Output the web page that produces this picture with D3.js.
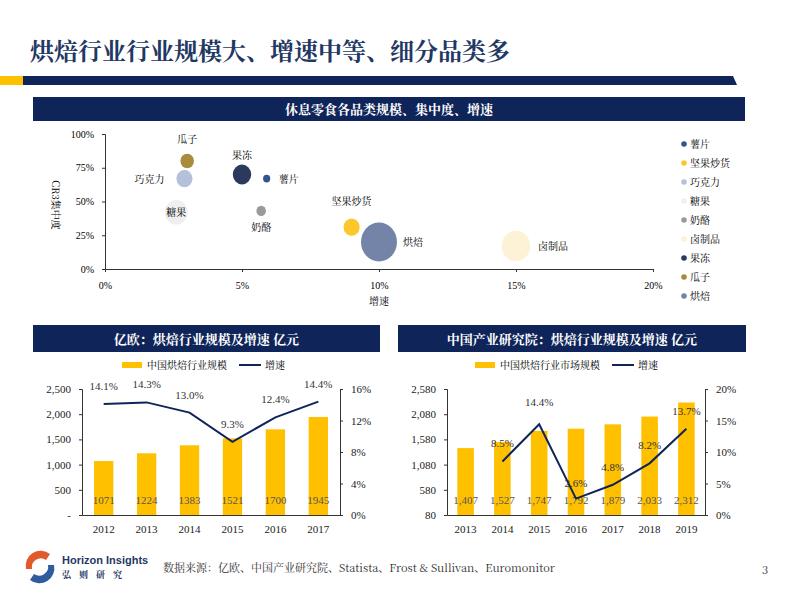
<!DOCTYPE html>
<html><head><meta charset="utf-8">
<script src="https://cdn.jsdelivr.net/npm/d3@7"></script>
<style>body{margin:0;background:#fff}svg{display:block;font-family:"Noto Serif CJK SC","Noto Sans CJK SC",serif}</style>
</head><body><svg id="c" width="800" height="600"></svg>
<script>
// bubble chart data
const bubbleNames = ["瓜子","巧克力","果冻","薯片","糖果","奶酪","坚果炒货","烘焙","卤制品"];
const bubbleGrowth = [0.030,0.029,0.050,0.059,0.026,0.057,0.090,0.100,0.150];
const bubbleCR3 = [0.80,0.67,0.70,0.67,0.42,0.43,0.31,0.20,0.17];
const bubbleSize = [14,20,26,4,40,7,20,100,62];
const bubbleColors = ["#a88b3c","#b5c0db","#2b3a5c","#35548f","#efefef","#9a9a9a","#fcc72d","#7384a8","#fdf1d6"];
const legendOrder = ["薯片","坚果炒货","巧克力","糖果","奶酪","卤制品","果冻","瓜子","烘焙"];

// chart 1 (亿欧)
const years1 = ["2012","2013","2014","2015","2016","2017"];
const size1 = [1071,1224,1383,1521,1700,1945];
const growth1 = [0.141,0.143,0.130,0.093,0.124,0.144];

// chart 2 (中国产业研究院)
const years2 = ["2013","2014","2015","2016","2017","2018","2019"];
const size2 = [1407,1527,1747,1792,1879,2033,2312];
const growth2 = [null,0.085,0.144,0.026,0.048,0.082,0.137];

const NAVY = "#0f2459", GOLD = "#ffc000";
const svg = d3.select("#c");

// title + banner
svg.append("text").attr("x",30).attr("y",60).attr("font-size",24).attr("font-weight","bold")
  .attr("fill","#1f3864").text("烘焙行业行业规模大、增速中等、细分品类多");
svg.append("rect").attr("x",0).attr("y",76).attr("width",23).attr("height",9).attr("fill",GOLD);
svg.append("path").attr("d","M23,76 L733,76 L737,85 L23,85 Z").attr("fill",NAVY);

function header(x,y,w,h,txt){
  svg.append("rect").attr("x",x).attr("y",y).attr("width",w).attr("height",h).attr("fill",NAVY);
  svg.append("text").attr("x",x+w/2).attr("y",y+h/2+5).attr("text-anchor","middle")
    .attr("font-size",13).attr("font-weight","bold").attr("fill","#fff").text(txt);
}
header(33,97,712,24,"休息零食各品类规模、集中度、增速");
header(33,325,347,27,"亿欧：烘焙行业规模及增速 亿元");
header(398,325,348,27,"中国产业研究院：烘焙行业规模及增速 亿元");

// ---- bubble chart
const bx = d3.scaleLinear().domain([0,0.2]).range([105,653]);
const by = d3.scaleLinear().domain([0,1]).range([269,134]);
const br = d3.scaleSqrt().domain([0,100]).range([0,18]);
const pct = d3.format(".0%");
const gb = svg.append("g").attr("font-size",10);
gb.append("g").attr("transform","translate(0,269)")
  .call(d3.axisBottom(bx).tickValues([0,0.05,0.1,0.15,0.2]).tickFormat(pct).tickSize(3).tickPadding(10));
gb.append("g").attr("transform","translate(105,0)")
  .call(d3.axisLeft(by).tickValues([0,0.25,0.5,0.75,1]).tickFormat(pct).tickSize(3).tickPadding(8));
gb.selectAll(".domain,.tick line").attr("stroke","#333");
gb.selectAll(".tick text").attr("font-family","Liberation Serif,serif").attr("font-size",10);
gb.append("text").attr("x",379).attr("y",305).attr("text-anchor","middle").attr("font-size",10).text("增速");
gb.append("text").attr("transform","translate(52,205) rotate(90)").attr("text-anchor","middle")
  .attr("font-size",10).text("CR3集中度");
const labelPos = {"瓜子":[0,-18,"middle"],"巧克力":[-20,4,"end"],"果冻":[0,-16,"middle"],"薯片":[12,4,"start"],
  "糖果":[0,4,"middle"],"奶酪":[0,20,"middle"],"坚果炒货":[0,-22,"middle"],"烘焙":[24,4,"start"],"卤制品":[22,4,"start"]};
bubbleNames.forEach((n,i)=>{
  const cx=bx(bubbleGrowth[i]), cy=by(bubbleCR3[i]), r=br(bubbleSize[i]);
  gb.append("ellipse").attr("cx",cx).attr("cy",cy).attr("rx",r).attr("ry",r*1.08).attr("fill",bubbleColors[i]);
  const p=labelPos[n];
  gb.append("text").attr("x",cx+p[0]).attr("y",cy+p[1]).attr("text-anchor",p[2]).text(n);
});
legendOrder.forEach((n,i)=>{
  const y=144+i*19;
  gb.append("circle").attr("cx",684).attr("cy",y).attr("r",2.8).attr("fill",bubbleColors[bubbleNames.indexOf(n)]);
  gb.append("text").attr("x",690).attr("y",y+4).text(n);
});

// ---- combo charts
function combo(o){
  const g=svg.append("g").attr("font-size",11);
  const x=d3.scaleBand().domain(o.years).range([o.x0,o.x1]).paddingInner(0.55).paddingOuter(0.28);
  const y=d3.scaleLinear().domain(o.yDom).range([515,389]);
  const y2=d3.scaleLinear().domain(o.y2Dom).range([515,389]);
  g.append("g").attr("transform",`translate(${o.x0},0)`)
    .call(d3.axisLeft(y).tickValues(o.yTicks).tickFormat(o.yFmt).tickSize(3).tickPadding(8));
  g.append("g").attr("transform",`translate(${o.x1},0)`)
    .call(d3.axisRight(y2).tickValues(o.y2Ticks).tickFormat(pct).tickSize(3).tickPadding(8));
  g.append("g").attr("transform","translate(0,515)").call(d3.axisBottom(x).tickSize(0).tickPadding(10));
  g.selectAll(".tick text").attr("font-family","Liberation Serif,serif").attr("font-size",11).attr("fill","#222");
  g.selectAll(".domain,.tick line").attr("stroke","#333");
  g.selectAll("rect.bar").data(o.size).join("rect").attr("x",(d,i)=>x(o.years[i])).attr("width",x.bandwidth())
    .attr("y",d=>y(d)).attr("height",d=>515-y(d)).attr("fill",GOLD);
  g.selectAll("text.v").data(o.size).join("text").attr("x",(d,i)=>x(o.years[i])+x.bandwidth()/2).attr("y",504)
    .attr("text-anchor","middle").attr("font-family","Liberation Serif,serif").attr("fill","#555").text(o.vFmt);
  const pts=o.growth.map((d,i)=>[d,i]).filter(p=>p[0]!==null);
  g.append("path").attr("fill","none").attr("stroke",NAVY).attr("stroke-width",2)
    .attr("d",d3.line().x(p=>x(o.years[p[1]])+x.bandwidth()/2).y(p=>y2(p[0]))(pts));
  pts.forEach(p=>g.append("text").attr("x",x(o.years[p[1]])+x.bandwidth()/2).attr("y",y2(p[0])-o.off[p[1]])
    .attr("text-anchor","middle").attr("font-family","Liberation Serif,serif").attr("font-size",11).attr("fill","#333")
    .text(d3.format(".1%")(p[0])));
  const lx=o.legX;
  g.append("rect").attr("x",lx).attr("y",362).attr("width",20).attr("height",6).attr("fill",GOLD);
  g.append("text").attr("x",lx+25).attr("y",369).attr("font-size",10).text(o.legName);
  const l2=lx+25+o.legName.length*10+12;
  g.append("line").attr("x1",l2).attr("x2",l2+22).attr("y1",365).attr("y2",365).attr("stroke",NAVY).attr("stroke-width",2);
  g.append("text").attr("x",l2+26).attr("y",369).attr("font-size",10).text("增速");
}
combo({x0:82,x1:340,years:years1,size:size1,growth:growth1,yDom:[0,2500],yTicks:[0,500,1000,1500,2000,2500],
  yFmt:d=>d===0?"-":d3.format(",")(d),y2Dom:[0,0.16],y2Ticks:[0,0.04,0.08,0.12,0.16],vFmt:d=>d,
  off:[14,14,14,14,14,14],legX:122,legName:"中国烘焙行业规模"});
combo({x0:447,x1:705,years:years2,size:size2,growth:growth2,yDom:[80,2580],yTicks:[80,580,1080,1580,2080,2580],
  yFmt:d3.format(","),y2Dom:[0,0.2],y2Ticks:[0,0.05,0.1,0.15,0.2],vFmt:d3.format(","),
  off:[14,14,18,12,14,14,14],legX:475,legName:"中国烘焙行业市场规模"});

// footer
const lg=svg.append("g").attr("transform","translate(40,567)");
lg.append("path").attr("d","M-14,2 A15,15 0 0 1 10,-13 L6,-7 A9,9 0 0 0 -8,2 Z").attr("fill","#e05a2b");
lg.append("path").attr("d","M14,-2 A15,15 0 0 1 -10,13 L-6,7 A9,9 0 0 0 8,-2 Z").attr("fill","#2f5c9c");
svg.append("text").attr("x",62).attr("y",564).attr("font-family","Liberation Sans Narrow,Liberation Sans").attr("font-weight","bold")
  .attr("font-size",11).attr("fill","#1f3864").text("Horizon Insights");
svg.append("text").attr("x",62).attr("y",578).attr("font-size",9).attr("font-weight","bold").attr("fill","#1f3864")
  .attr("letter-spacing",8).text("弘则研究");
svg.append("text").attr("x",163).attr("y",572).attr("font-size",11).attr("fill","#333")
  .text("数据来源：亿欧、中国产业研究院、Statista、Frost & Sullivan、Euromonitor");
svg.append("text").attr("x",762).attr("y",574).attr("font-size",11).attr("fill","#333").text("3");
</script></body></html>
